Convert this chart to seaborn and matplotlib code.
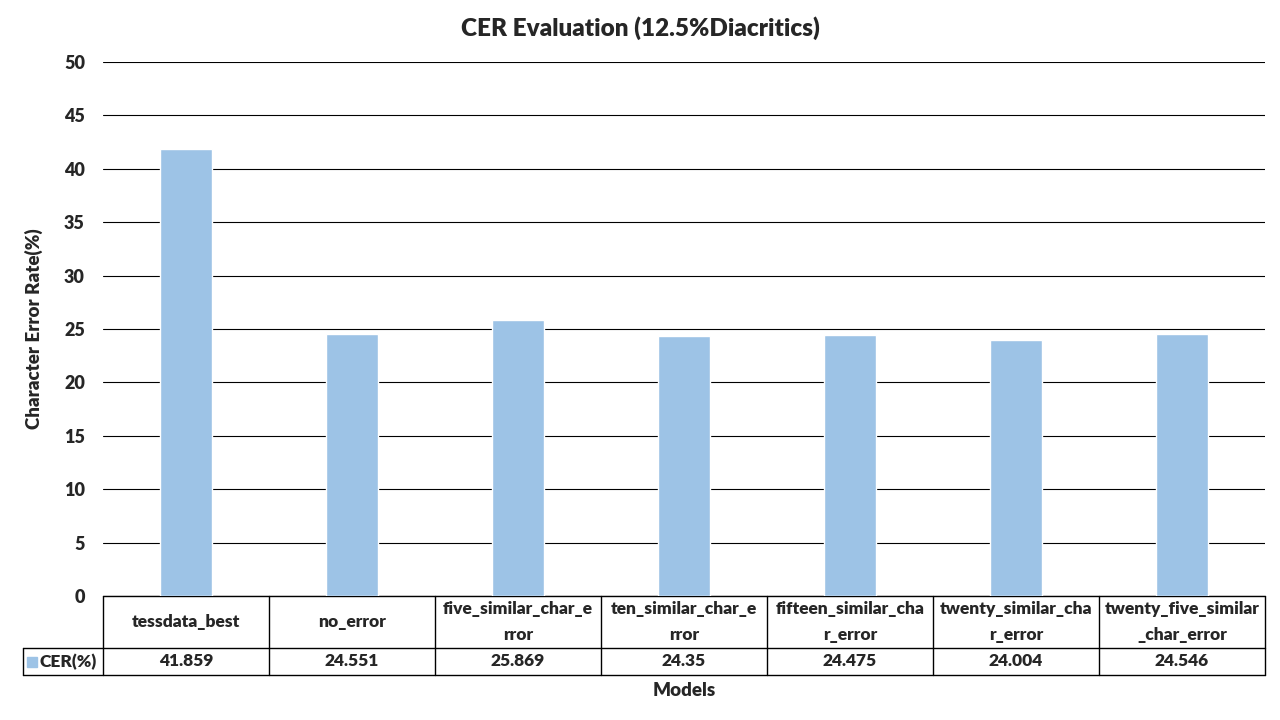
import matplotlib
matplotlib.use("Agg")
import matplotlib.pyplot as plt
import matplotlib.transforms as mtransforms
import seaborn as sns
import pandas as pd

# Data
models = [
    "tessdata_best",
    "no_error",
    "five_similar_char_error",
    "ten_similar_char_error",
    "fifteen_similar_char_error",
    "twenty_similar_char_error",
    "twenty_five_similar_char_error",
]
table_labels = [
    "tessdata_best",
    "no_error",
    "five_similar_char_e\nrror",
    "ten_similar_char_e\nrror",
    "fifteen_similar_cha\nr_error",
    "twenty_similar_cha\nr_error",
    "twenty_five_similar\n_char_error",
]
cer = [41.859, 24.551, 25.869, 24.35, 24.475, 24.004, 24.546]
series_name = "CER(%)"
yticks = [0, 5, 10, 15, 20, 25, 30, 35, 40, 45, 50]

bar_color = "#9dc3e6"
FW = "heavy"

sns.set_style("white")
plt.rcParams["font.family"] = ["Lato", "DejaVu Sans"]

df = pd.DataFrame({"model": models, "cer": cer})

fig = plt.figure(figsize=(12.8, 7.2), dpi=100)
W, H = 1280, 720
L, R, T, B = 103, 1265, 62, 596
ax = fig.add_axes([L / W, 1 - B / H, (R - L) / W, (B - T) / H])

sns.barplot(data=df, x="model", y="cer", color=bar_color, width=0.31,
            saturation=1, ax=ax, zorder=3)

ax.set_ylim(0, 50)
ax.set_xlim(-0.5, len(models) - 0.5)
ax.set_yticks(yticks)
ax.set_yticklabels([str(t) for t in yticks], fontsize=13, fontweight=FW)
ax.yaxis.grid(True, color="black", linewidth=0.8, zorder=0)
ax.set_axisbelow(True)
ax.tick_params(axis="y", length=0, pad=13)
ax.tick_params(axis="x", length=0)
ax.set_xticklabels([])
ax.set_xlabel("")
ax.set_ylabel("Character Error Rate(%)", fontsize=13.5, fontweight=FW, labelpad=15)
for s in ax.spines.values():
    s.set_visible(False)

# Data table below the plot (pixel helpers in axes fraction)
def ay(py):
    return (B - py) / (B - T)

def ax_x(px):
    return (px - L) / (R - L)

row1_bot, row2_bot, left_x = 648, 675, 23
kw = dict(transform=ax.transAxes, color="black", linewidth=1.0, clip_on=False)
ax.plot([0, 1], [ay(B), ay(B)], **kw)
ax.plot([ax_x(left_x), 1], [ay(row1_bot), ay(row1_bot)], **kw)
ax.plot([ax_x(left_x), 1], [ay(row2_bot), ay(row2_bot)], **kw)
ax.plot([ax_x(left_x), ax_x(left_x)], [ay(row1_bot), ay(row2_bot)], **kw)
for i in range(len(models) + 1):
    xf = i / len(models)
    ax.plot([xf, xf], [ay(B), ay(row2_bot)], **kw)

trans = mtransforms.blended_transform_factory(ax.transData, ax.transAxes)
for i, (lab, v) in enumerate(zip(table_labels, cer)):
    ax.text(i, ay((B + row1_bot) / 2), lab, transform=trans, ha="center",
            va="center", fontsize=12.5, fontweight=FW, linespacing=1.7)
    ax.text(i, ay((row1_bot + row2_bot) / 2), f"{v:g}", transform=trans,
            ha="center", va="center", fontsize=12.5, fontweight=FW)

# legend key in the table
ax.add_patch(plt.Rectangle((ax_x(27), ay(667)), ax_x(37) - ax_x(27), ay(657) - ay(667),
                           transform=ax.transAxes, color=bar_color, clip_on=False))
ax.text(ax_x(40), ay((row1_bot + row2_bot) / 2), series_name, transform=ax.transAxes,
        ha="left", va="center", fontsize=12.5, fontweight=FW)

fig.text(684 / W, 1 - 691 / H, "Models", ha="center", va="center",
         fontsize=13.5, fontweight=FW)
fig.text(640 / W, 1 - 28 / H, "CER Evaluation (12.5%Diacritics)", ha="center",
         va="center", fontsize=17.5, fontweight=FW)

fig.savefig("out.png", dpi=100)
